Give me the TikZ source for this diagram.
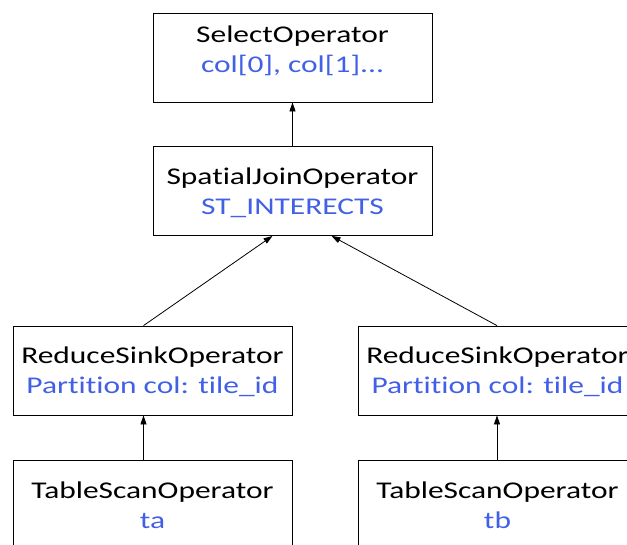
\documentclass[tikz,border=0pt]{standalone}
\usepackage{fontspec}
\setmainfont{Carlito}[FakeStretch=1.31, Ligatures=NoCommon]
\usetikzlibrary{arrows.meta}
\definecolor{opblue}{RGB}{66,96,230}
% operator name over its blue argument, pushed down by #1
\newcommand\oplines[3][0pt]{\rule{0pt}{\dimexpr20pt+#1\relax}#2\\%
  \textcolor{opblue}{#3}\rule[\dimexpr#1-20pt\relax]{0pt}{\dimexpr20pt-#1\relax}}
\begin{document}
\begin{tikzpicture}[x=1pt,y=-1pt,
    opbox/.style={draw, line width=0.8pt, minimum width=279pt, minimum height=89pt,
      align=center, inner sep=0pt, font=\fontsize{24}{30}\selectfont},
    flow/.style={-{Triangle[length=9pt,width=6pt]}, line width=0.8pt}]
  \def\midx{292.5}
  \def\leftx{152.5}
  \def\rightx{497.5}
  \useasboundingbox (0,0) rectangle (627,544);

  \node[opbox] (select) at (\midx,57.5) {\oplines{SelectOperator}{col[0], col[1]...}};
  \node[opbox] (join) at (\midx,191) {\oplines[8pt]{SpatialJoinOperator}{ST\_INTERECTS}};
  \node[opbox] (sinka) at (\leftx,370.5) {\oplines[8pt]{ReduceSinkOperator}{Partition col: tile\_id}};
  \node[opbox] (sinkb) at (\rightx,370.5) {\oplines[8pt]{ReduceSinkOperator}{Partition col: tile\_id}};
  \node[opbox] (scana) at (\leftx,504.5) {\oplines[9pt]{TableScanOperator}{ta}};
  \node[opbox] (scanb) at (\rightx,504.5) {\oplines[9pt]{TableScanOperator}{tb}};

  \draw[flow] (join) -- (select);
  \draw[flow] ([xshift=-9pt]sinka.north) -- ([xshift=-20pt]join.south);
  \draw[flow] ([xshift=-0.5pt]sinkb.north) -- ([xshift=39pt]join.south);
  \draw[flow] ([xshift=-9pt]scana.north) -- ([xshift=-9pt]sinka.south);
  \draw[flow] ([xshift=-0.5pt]scanb.north) -- ([xshift=-0.5pt]sinkb.south);
\end{tikzpicture}
\end{document}
